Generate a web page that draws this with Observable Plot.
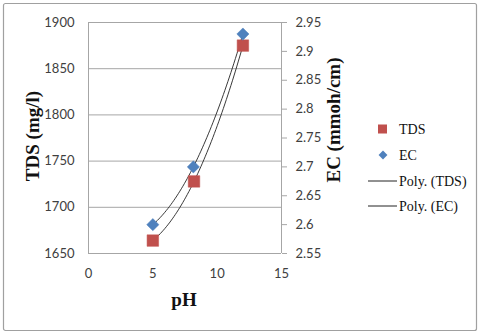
<!DOCTYPE html>
<html><head><meta charset="utf-8">
<script src="https://cdn.jsdelivr.net/npm/d3@7"></script>
<script src="https://cdn.jsdelivr.net/npm/@observablehq/plot@0.6"></script>
<style>
body{margin:0;background:#fff}
#c{width:480px;height:333px;position:relative}
</style>
</head><body><div id="c"></div>
<script>
// ---- data ----
const pHTDS = [5, 8.2, 12];
const TDS = [1664, 1728, 1875];
const pHEC = [5, 8.15, 12];
const EC = [2.60, 2.70, 2.93];
const tdsTicks = [1650, 1700, 1750, 1800, 1850, 1900];
const ecTicks = [2.55, 2.6, 2.65, 2.7, 2.75, 2.8, 2.85, 2.9, 2.95];
const xTicks = [0, 5, 10, 15];
const seriesNames = ["TDS", "EC", "Poly. (TDS)", "Poly. (EC)"];
const xLabel = "pH", yLabel = "TDS (mg/l)", y2Label = "EC (mmoh/cm)";

// map EC (right axis) into TDS (left axis) space
const ecDomain = [2.55, 2.95], tdsDomain = [1650, 1900];
const ecToT = v => tdsDomain[0] + (v - ecDomain[0]) * (tdsDomain[1] - tdsDomain[0]) / (ecDomain[1] - ecDomain[0]);
const tToEc = v => ecDomain[0] + (v - tdsDomain[0]) * (ecDomain[1] - ecDomain[0]) / (tdsDomain[1] - tdsDomain[0]);

const tdsData = pHTDS.map((x, i) => ({x, y: TDS[i]}));
const ecData = pHEC.map((x, i) => ({x, y: ecToT(EC[i])}));

// order-2 polynomial least-squares trendline (as Excel's "Poly.")
function polyFit(xs, ys) {
  const S = k => d3.sum(xs, x => x ** k);
  const T = k => d3.sum(xs, (x, i) => ys[i] * x ** k);
  const A = [[S(0), S(1), S(2), T(0)], [S(1), S(2), S(3), T(1)], [S(2), S(3), S(4), T(2)]];
  for (let i = 0; i < 3; i++) {
    for (let j = i + 1; j < 3; j++) {
      const f = A[j][i] / A[i][i];
      for (let k = i; k < 4; k++) A[j][k] -= f * A[i][k];
    }
  }
  const c = [0, 0, 0];
  for (let i = 2; i >= 0; i--) {
    let s = A[i][3];
    for (let k = i + 1; k < 3; k++) s -= A[i][k] * c[k];
    c[i] = s / A[i][i];
  }
  return x => c[0] + c[1] * x + c[2] * x * x;
}
function trend(data) {
  const f = polyFit(data.map(d => d.x), data.map(d => d.y));
  const [a, b] = d3.extent(data, d => d.x);
  return d3.range(0, 61).map(i => { const x = a + (b - a) * i / 60; return {x, y: f(x)}; });
}
const tdsTrend = trend(tdsData);
const ecTrend = trend(ecData);

const gray = "#a6a6a6", tickColor = "#404040";
const tickFont = "Lato, 'Open Sans', sans-serif";
const serif = "'Liberation Serif', 'DejaVu Serif', serif";

const plot = Plot.plot({
  width: 480, height: 333,
  marginLeft: 88, marginRight: 199, marginTop: 22, marginBottom: 80,
  style: {fontFamily: tickFont, fontSize: "13px", color: tickColor, background: "transparent"},
  x: {domain: [0, 15]},
  y: {domain: tdsDomain},
  marks: [
    Plot.gridY(tdsTicks.slice(1), {stroke: gray, strokeOpacity: 1, strokeWidth: 1}),
    Plot.ruleX([0, 15], {stroke: gray, strokeWidth: 1}),
    Plot.ruleY([1650], {stroke: gray, strokeWidth: 1}),
    Plot.axisY({ticks: tdsTicks, tickFormat: d3.format("d"), tickSize: 0, tickPadding: 14, label: null, fill: tickColor}),
    Plot.axisY({anchor: "right", ticks: ecTicks.map(ecToT), tickFormat: d => String(+tToEc(d).toFixed(2)),
      tickSize: 5, tickPadding: 9, stroke: gray, label: null, fill: tickColor}),
    Plot.axisX({ticks: xTicks, tickSize: 0, tickPadding: 15, label: null, fill: tickColor}),
    Plot.line(tdsTrend, {x: "x", y: "y", stroke: "#222", strokeWidth: 0.9}),
    Plot.line(ecTrend, {x: "x", y: "y", stroke: "#222", strokeWidth: 0.9}),
    Plot.dot(tdsData, {x: "x", y: "y", symbol: "square", r: 6.5, fill: "#C0504D", stroke: "#C0504D", strokeWidth: 0.5}),
    Plot.dot(ecData, {x: "x", y: "y", symbol: "diamond2", r: 5.5, fill: "#4F81BD", stroke: "#4F81BD", strokeWidth: 0.5}),
  ]
});
document.getElementById("c").appendChild(plot);

// chrome: border, axis titles, legend
const svg = d3.select(plot);
svg.insert("rect", ":first-child").attr("x", 3.5).attr("y", 3.5).attr("width", 473).attr("height", 327)
  .attr("rx", 2).attr("fill", "#fff").attr("stroke", "#a0a0a0").attr("stroke-width", 1.2);
const title = (txt, x, y, rot) => svg.append("text").text(txt)
  .attr("transform", `translate(${x},${y}) rotate(${rot})`)
  .attr("text-anchor", "middle").attr("dominant-baseline", "central")
  .style("font-family", serif).style("font-weight", "bold").style("font-size", "19px").attr("fill", "#111");
title(yLabel, 32, 136, -90);
title(y2Label, 333, 120, -90);
title(xLabel, 184, 299, 0);

const lg = svg.append("g");
const rowsY = [129, 155, 181, 206];
lg.append("rect").attr("x", 378).attr("y", rowsY[0] - 4.5).attr("width", 9).attr("height", 9).attr("fill", "#C0504D");
lg.append("path").attr("d", d3.symbol(d3.symbolDiamond2, 50)()).attr("transform", `translate(383,${rowsY[1]})`).attr("fill", "#4F81BD");
lg.append("line").attr("x1", 368).attr("x2", 397).attr("y1", rowsY[2]).attr("y2", rowsY[2]).attr("stroke", "#222").attr("stroke-width", 1);
lg.append("line").attr("x1", 368).attr("x2", 397).attr("y1", rowsY[3]).attr("y2", rowsY[3]).attr("stroke", "#222").attr("stroke-width", 1);
seriesNames.forEach((n, i) => lg.append("text").text(n).attr("x", 399).attr("y", rowsY[i])
  .attr("dominant-baseline", "central").attr("text-anchor", "start").attr("fill", "#111")
  .style("font-family", serif).style("font-size", "14px"));
</script>
</body></html>
